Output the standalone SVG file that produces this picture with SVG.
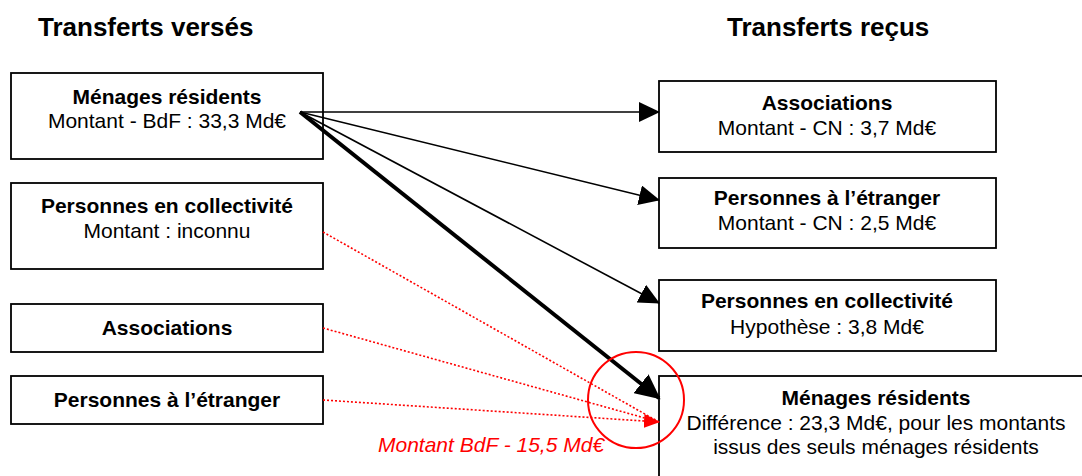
<svg xmlns="http://www.w3.org/2000/svg" width="1082" height="476" viewBox="0 0 1082 476">
<style>
.box{fill:#fff;stroke:#000;stroke-width:1.8}
.t{font-family:"Liberation Sans",Arial,sans-serif;font-size:21px;fill:#000;text-anchor:middle}
.b{font-weight:bold}
.title{font-family:"Liberation Sans",Arial,sans-serif;font-size:26px;font-weight:bold;fill:#000}
.ln{stroke:#000;stroke-width:1.6;fill:none}
.thick{stroke:#000;stroke-width:4;fill:none}
.red{stroke:#f00;stroke-width:1.6;stroke-dasharray:2,2;fill:none}
</style>
<defs>
<marker id="ah" markerUnits="userSpaceOnUse" markerWidth="22" markerHeight="20" refX="20" refY="10" orient="auto"><path d="M0,0 L21,10 L0,20 z" fill="#000"/></marker>
<marker id="ahb" markerUnits="userSpaceOnUse" markerWidth="26" markerHeight="24" refX="23" refY="12" orient="auto"><path d="M0,0 L25,12 L0,24 z" fill="#000"/></marker>
<marker id="rh" markerUnits="userSpaceOnUse" markerWidth="16" markerHeight="14" refX="15" refY="7" orient="auto"><path d="M0,0 L16,7 L0,14 z" fill="#f00"/></marker>
</defs>
<rect width="1082" height="476" fill="#fff"/>
<text class="title" x="38" y="36">Transferts versés</text>
<text class="title" x="727" y="36">Transferts reçus</text>

<g id="src-menages">
<rect class="box" x="11" y="73" width="312" height="86"/>
<text class="t b" x="167" y="104">Ménages résidents</text>
<text class="t" x="167" y="128">Montant - BdF : 33,3 Md€</text>
</g>
<g id="src-collectivite">
<rect class="box" x="11" y="183" width="312" height="86"/>
<text class="t b" x="167" y="213">Personnes en collectivité</text>
<text class="t" x="167" y="238">Montant : inconnu</text>
</g>
<g id="src-associations">
<rect class="box" x="11" y="304" width="312" height="48"/>
<text class="t b" x="167" y="335">Associations</text>
</g>
<g id="src-etranger">
<rect class="box" x="11" y="376" width="312" height="48"/>
<text class="t b" x="167" y="407">Personnes à l’étranger</text>
</g>

<g id="dst-associations">
<rect class="box" x="659" y="81" width="337" height="71"/>
<text class="t b" x="827" y="110">Associations</text>
<text class="t" x="827" y="135">Montant - CN : 3,7 Md€</text>
</g>
<g id="dst-etranger">
<rect class="box" x="659" y="178" width="337" height="70"/>
<text class="t b" x="827" y="205">Personnes à l’étranger</text>
<text class="t" x="827" y="230">Montant - CN : 2,5 Md€</text>
</g>
<g id="dst-collectivite">
<rect class="box" x="659" y="280" width="337" height="71"/>
<text class="t b" x="827" y="308">Personnes en collectivité</text>
<text class="t" x="827" y="334">Hypothèse : 3,8 Md€</text>
</g>
<g id="dst-menages">
<rect class="box" x="659" y="376" width="440" height="120"/>
<text class="t b" x="876" y="405">Ménages résidents</text>
<text class="t" x="876" y="430">Différence : 23,3 Md€, pour les montants</text>
<text class="t" x="876" y="454">issus des seuls ménages résidents</text>
</g>

<g id="connectors">
<line class="ln" x1="300" y1="112" x2="659" y2="112" marker-end="url(#ah)"/>
<line class="ln" x1="300" y1="112" x2="659" y2="200" marker-end="url(#ah)"/>
<line class="ln" x1="300" y1="112" x2="659" y2="303" marker-end="url(#ah)"/>
<line class="thick" x1="300" y1="112" x2="659" y2="398" marker-end="url(#ahb)"/>
<line class="red" x1="323" y1="232" x2="659" y2="422"/>
<line class="red" x1="323" y1="328" x2="659" y2="422"/>
<line class="red" x1="323" y1="400" x2="659" y2="422" marker-end="url(#rh)"/>
</g>
<g id="annotation">
<circle cx="636" cy="400" r="48" fill="none" stroke="#f00" stroke-width="2"/>
<text x="378" y="452" font-family="'Liberation Sans',Arial,sans-serif" font-size="21" font-style="italic" fill="#f00">Montant BdF - 15,5 Md€</text>
</g>
</svg>
